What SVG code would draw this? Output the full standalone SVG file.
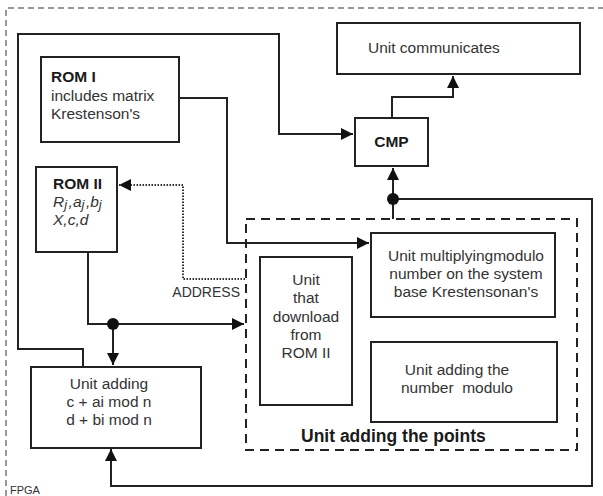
<svg xmlns="http://www.w3.org/2000/svg" width="603" height="496" viewBox="0 0 603 496">
<style>
.box{fill:#fff;stroke:#222;stroke-width:2}
.ln{fill:none;stroke:#222;stroke-width:2}
.t{font-family:"Liberation Sans",Arial,sans-serif;font-size:15.5px;fill:#333}
.b{font-weight:bold;fill:#1a1a1a}
.c{text-anchor:middle}
.i{font-style:italic}
</style>
<defs>
<marker id="ar" markerUnits="userSpaceOnUse" markerWidth="12" markerHeight="12" refX="12" refY="6" orient="auto">
<path d="M0,0 L12,6 L0,12 z" fill="#111"/>
</marker>
</defs>
<rect width="603" height="496" fill="#fff"/>
<g id="fpga">
<path d="M6,496 V8 H603" fill="none" stroke="#333" stroke-width="1" stroke-dasharray="6,4"/>
<text class="t" x="10" y="494" style="font-size:11px">FPGA</text>
</g>
<g id="container">
<rect x="246" y="219" width="331" height="231" fill="none" stroke="#222" stroke-width="2" stroke-dasharray="9,6"/>
<text class="t b" x="301" y="442" style="font-size:17.5px">Unit adding the points</text>
</g>
<g id="connectors">
<path class="ln" d="M83,367 V349 H18 V34 H279 V134 H353" marker-end="url(#ar)"/>
<path class="ln" d="M392,118 V97 H453 V76" marker-end="url(#ar)"/>
<path class="ln" d="M393,219 V168" marker-end="url(#ar)"/>
<path class="ln" d="M393,199 H592 V486 H111 V449" marker-end="url(#ar)"/>
<circle cx="393" cy="199" r="6" fill="#111"/>
<path class="ln" d="M179,98 H227 V243 H369" marker-end="url(#ar)"/>
<path class="ln" d="M88,252 V324 H244" marker-end="url(#ar)"/>
<path class="ln" d="M113,324 V365" marker-end="url(#ar)"/>
<circle cx="113" cy="324" r="6" fill="#111"/>
<path d="M245,279 H183 V185 H119" fill="none" stroke="#333" stroke-width="2" stroke-dasharray="1.5,1.5" marker-end="url(#ar)"/>
<text class="t" x="240" y="297" text-anchor="end" style="font-size:14px">ADDRESS</text>
</g>
<g id="unit-communicates">
<rect class="box" x="337" y="23" width="243" height="51"/>
<text class="t" x="368" y="53">Unit communicates</text>
</g>
<g id="cmp">
<rect class="box" x="355" y="118" width="73" height="48"/>
<text class="t b c" x="391.5" y="147">CMP</text>
</g>
<g id="rom1">
<rect class="box" x="41" y="57" width="138" height="85"/>
<text class="t b" x="51" y="82">ROM I</text>
<text class="t" x="51" y="101">includes matrix</text>
<text class="t" x="51" y="119">Krestenson's</text>
</g>
<g id="rom2">
<rect class="box" x="36" y="167" width="81" height="85"/>
<text class="t b" x="53" y="189">ROM II</text>
<text class="t i" x="53" y="207">R<tspan dy="2" style="font-size:13px">j</tspan><tspan dx="1.5" dy="-2">,a</tspan><tspan dy="2" style="font-size:13px">j</tspan><tspan dx="1.5" dy="-2">,b</tspan><tspan dy="2" style="font-size:13px">j</tspan></text>
<text class="t i" x="53" y="225">X,c,d</text>
</g>
<g id="unit-adding-cd">
<rect class="box" x="31" y="367" width="170" height="81"/>
<text class="t c" x="109" y="389">Unit adding</text>
<text class="t c" x="109" y="407">c + ai mod n</text>
<text class="t c" x="109" y="425">d + bi mod n</text>
</g>
<g id="unit-download">
<rect class="box" x="260" y="257" width="92" height="148"/>
<text class="t c" x="306" y="285">Unit</text>
<text class="t c" x="306" y="303">that</text>
<text class="t c" x="306" y="322">download</text>
<text class="t c" x="306" y="340">from</text>
<text class="t c" x="306" y="358">ROM II</text>
</g>
<g id="unit-multiplying">
<rect class="box" x="371" y="233" width="184" height="84"/>
<text class="t c" x="466" y="261">Unit multiplyingmodulo</text>
<text class="t c" x="466" y="279">number on the system</text>
<text class="t c" x="466" y="297">base Krestensonan's</text>
</g>
<g id="unit-adding-number">
<rect class="box" x="371" y="342" width="186" height="80"/>
<text class="t c" x="457" y="375">Unit adding the</text>
<text class="t c" x="457" y="393" xml:space="preserve">number  modulo</text>
</g>
</svg>
